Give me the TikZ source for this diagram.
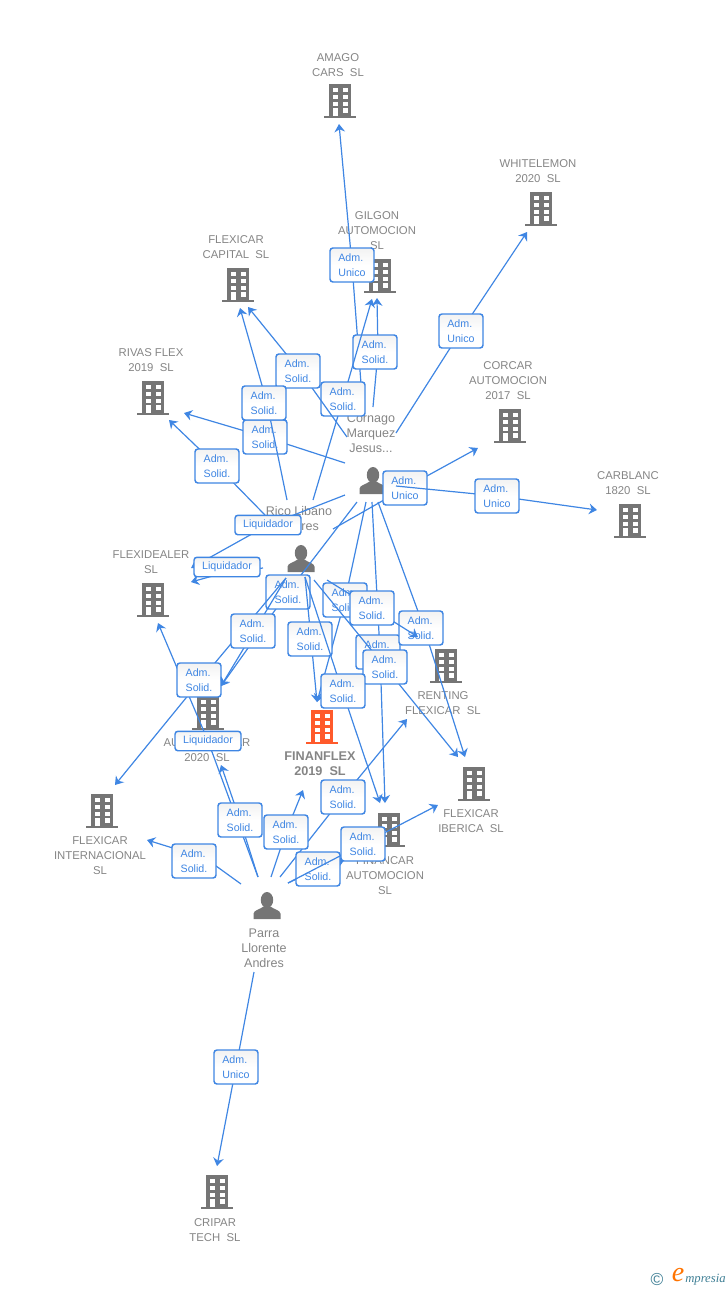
\documentclass[tikz,border=0pt]{standalone}
\usepackage{fontspec}
\setmainfont{Liberation Sans}
\newfontfamily\logofont{Liberation Serif}
\usetikzlibrary{arrows.meta}
\definecolor{linkblue}{HTML}{3F86E3}
\definecolor{icongray}{HTML}{757575}
\definecolor{textgray}{HTML}{858585}
\definecolor{focusorange}{HTML}{FF5A2B}
\definecolor{logoteal}{HTML}{3F7F95}
\tikzset{
  pics/bldg/.style={code={
    \fill[#1] (-11,-17) rectangle (11,15);
    \fill[#1] (-16,14.5) rectangle (16,17);
    \foreach \yy in {-13.5,-6.5,0.5}{
      \fill[white] (-7,\yy) rectangle ++(5,4.5);
      \fill[white] (2.5,\yy) rectangle ++(5,4.5);
    }
    \fill[white] (-7,7) rectangle (-2,14.5);
    \fill[white] (2.5,7) rectangle (7.5,11.5);
  }},
  pics/pers/.style={code={
    \fill[icongray] (0,-5.5) ellipse (6.2 and 8);
    \fill[icongray] (-13.5,13.5) -- (-13.5,8) .. controls (-13,4.5) and (-7,4) .. (-3.5,1)
      -- (3.5,1) .. controls (7,4) and (13,4.5) .. (13.5,8) -- (13.5,13.5) -- cycle;
  }},
  corp/.style={text=textgray,align=center,inner sep=0pt,yshift=-0.75pt,font=\fontsize{8.5}{11.25}\selectfont},
  corpmain/.style={text=textgray,align=center,inner sep=0pt,font=\bfseries\fontsize{9.5}{11.25}\selectfont},
  who/.style={text=textgray,align=center,inner sep=0pt,font=\fontsize{9.4}{11.25}\selectfont},
  conn/.style={draw=linkblue,line width=0.9pt,-{Stealth[length=6pt,width=8pt,inset=2pt]}},
  tag/.style={draw=linkblue,line width=1.1pt,rounded corners=2.2pt,top color=black!5,bottom color=white,middle color=white,
    text=linkblue,inner sep=0pt,align=left,minimum width=33pt,minimum height=25.5pt,font=\fontsize{8}{11.25}\selectfont},
  liq/.style={tag,minimum width=49.5pt,minimum height=14.6pt}
}
% \conn{id}{start}{line point}{tip}{box position}{box style}{text}
\newcommand{\conn}[7]{%
  \coordinate (s#1) at (#2);
  \coordinate (m#1) at (#3);
  \coordinate (t#1) at (#4);
  \draw[conn] (s#1) -- (m#1) -- (t#1);
  \node[#6] (l#1) at (#5) {#7};
}
\newcommand{\AS}{Adm.\\Solid.}
\newcommand{\AU}{Adm.\\Unico}
\begin{document}
\begin{tikzpicture}[x=0.75pt,y=-0.75pt]
\useasboundingbox (0,0) rectangle (728,1290);
% company icons
\pic at (340,101) {bldg=icongray};
\pic at (541,209) {bldg=icongray};
\pic at (380,276) {bldg=icongray};
\pic at (238,285) {bldg=icongray};
\pic at (153,398) {bldg=icongray};
\pic at (510,426) {bldg=icongray};
\pic at (630,521) {bldg=icongray};
\pic at (153,600) {bldg=icongray};
\pic at (446,666) {bldg=icongray};
\pic at (208,713) {bldg=icongray};
\pic at (322,727) {bldg=focusorange};
\pic at (474,784) {bldg=icongray};
\pic at (389,830) {bldg=icongray};
\pic at (102,811) {bldg=icongray};
\pic at (217,1192) {bldg=icongray};
% person icons
\pic at (373,480.5) {pers};
\pic at (301,558.5) {pers};
\pic at (267,905.5) {pers};
% company names
\node[corp] (amago) at (338,64.5) {AMAGO\\CARS\ \ SL};
\node[corp] (white) at (538,170.5) {WHITELEMON\\2020\ \ SL};
\node[corp] (gilgon) at (377,230) {GILGON\\AUTOMOCION\\SL};
\node[corp] (capital) at (236,246.5) {FLEXICAR\\CAPITAL\ \ SL};
\node[corp] (rivas) at (151,359.5) {RIVAS FLEX\\2019\ \ SL};
\node[corp] (corcar) at (508,380) {CORCAR\\AUTOMOCION\\2017\ \ SL};
\node[corp] (carblanc) at (628,482.5) {CARBLANC\\1820\ \ SL};
\node[corp] (dealer) at (151,561.5) {FLEXIDEALER\\SL};
\node[corp] (renting) at (443,702.5) {RENTING\\FLEXICAR\ \ SL};
\node[corp] (auto) at (207,749.5) {AUTOFLEXICAR\\2020\ \ SL};
\node[corpmain] (finan) at (320,763.5) {FINANFLEX\\2019\ \ SL};
\node[corp] (iberica) at (471,820.5) {FLEXICAR\\IBERICA\ \ SL};
\node[corp] (financar) at (385,875) {FINANCAR\\AUTOMOCION\\SL};
\node[corp] (inter) at (100,855) {FLEXICAR\\INTERNACIONAL\\SL};
\node[corp] (cripar) at (215,1229.5) {CRIPAR\\TECH\ \ SL};
% person names
\node[who] (cornago) at (371,433) {Cornago\\Marquez\\Jesus...};
\node[who] (rico) at (299,518.5) {Rico Libano\\Andres};
\node[who] (parra) at (264,948) {Parra\\Llorente\\Andres};
% connectors, in painting order
\conn{a}{363,410}{352,265}{339,124}{352,265}{tag}{\AU}
\conn{b}{373,407}{378,352}{377,298}{375,352}{tag}{\AS}
\conn{c}{313,500}{343,399}{372,299}{343,399}{tag}{\AS}
\conn{d}{396,433}{461,331}{527,232}{461,331}{tag}{\AU}
\conn{e}{347,437}{300,371}{248,307}{298,371}{tag}{\AS}
\conn{g}{345,463}{265,437}{184,413}{265,437}{tag}{\AS}
\conn{f}{287,500}{267,403}{240,308}{264,403}{tag}{\AS}
\conn{h}{265,515}{217,466}{169,420}{217,466}{tag}{\AS}
\conn{i}{333,529}{405,488}{478,448}{405,488}{tag}{\AU}
\conn{j}{396,486}{497,496}{597,510}{497,496}{tag}{\AU}
\conn{k}{345,495}{268,525}{191,568}{268,525}{liq}{Liquidador}
\conn{n}{263,568}{227,572}{191,582}{227,567}{liq}{Liquidador}
\conn{o}{258,877}{208,741}{158,623}{208,741}{liq}{Liquidador}
\conn{p}{357,502}{288,592}{221,686}{288,592}{tag}{\AS}
\conn{q}{286,578}{199,682}{115,785}{199,680}{tag}{\AS}
\conn{r}{286,578}{253,633}{221,686}{253,631}{tag}{\AS}
\conn{s}{366,502}{345,600}{317,702}{345,600}{tag}{\AS}
\conn{t}{372,502}{380,652}{385,803}{378,652}{tag}{\AS}
\conn{u}{378,502}{423,625}{465,757}{421,628}{tag}{\AS}
\conn{v}{305,577}{311,639}{317,702}{310,639}{tag}{\AS}
\conn{w}{327,580}{372,608}{418,637}{372,608}{tag}{\AS}
\conn{x}{314,580}{386,668}{458,757}{385,667}{tag}{\AS}
\conn{y}{305,577}{342,690}{380,803}{343,691}{tag}{\AS}
\conn{z}{280,877}{343,797}{407,719}{343,797}{tag}{\AS}
\conn{aa}{258,877}{240,820}{221,765}{240,820}{tag}{\AS}
\conn{ab}{271,877}{286,832}{303,790}{286,832}{tag}{\AS}
\conn{ac}{241,884}{205,858}{147,840}{194,861}{tag}{\AS}
\conn{ad}{288,883}{318,869}{345,859}{318,869}{tag}{\AS}
\conn{ae}{288,883}{363,844}{438,805}{363,844}{tag}{\AS}
\conn{af}{254,972}{236,1067}{217,1166}{236,1067}{tag}{\AU}
% brand mark
\node[text=logoteal,inner sep=0pt,font=\fontsize{13}{13}\selectfont] (copy) at (657,1279) {©};
\node[text=orange!90!red,inner sep=0pt,font=\logofont\itshape\fontsize{21}{21}\selectfont] (brande) at (678,1275) {e};
\node[text=logoteal,inner sep=0pt,anchor=west,font=\logofont\itshape\fontsize{9.5}{9.5}\selectfont] (brand) at (685,1279.5) {mpresia};
\end{tikzpicture}
\end{document}
